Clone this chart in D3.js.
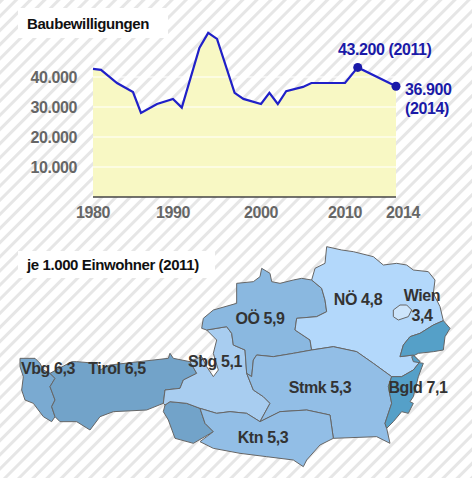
<!DOCTYPE html><html><head><meta charset="utf-8">
<script src="https://cdn.jsdelivr.net/npm/d3@7"></script>
<style>body{margin:0}svg text{font-family:"Liberation Sans",Arial,sans-serif;font-weight:bold;letter-spacing:-0.4px}</style></head><body>
<svg id="c" width="472" height="478"></svg>
<script>
const years=[1980,1981,1983,1985,1986,1988,1990,1991,1993,1994,1995,1997,1998,2000,2001,2002,2003,2005,2006,2010,2011,2014];
const values=[42700,42400,38000,35000,28000,31000,32700,29800,49700,54700,52700,34700,32700,31000,34700,31000,35300,36700,38000,38000,43200,36900];
const yTicks=[10000,20000,30000,40000];
const xTicks=[1980,1990,2000,2010,2014];
const states=["Vbg","Tirol","Osttirol","Sbg","OÖ","NÖ","Wien","Stmk","Ktn","Bgld"];
const rates=[6.3,6.5,6.5,5.1,5.9,4.8,3.4,5.3,5.3,7.1];
const shapes=[
[[60,385],[105,385],[120,400],[130,420],[150,430],[165,445],[150,470],[165,510],[155,530],[165,560],[155,575],[130,560],[100,520],[75,510],[65,480],[70,440],[60,410]],
[[150,430],[215,395],[230,395],[290,400],[300,420],[330,405],[505,385],[510,370],[520,385],[570,395],[590,430],[550,450],[540,475],[495,480],[490,520],[440,540],[340,545],[300,560],[270,600],[230,575],[180,575],[165,560],[155,530],[165,510],[150,470],[165,445]],
[[510,515],[560,520],[600,535],[615,580],[640,605],[580,640],[525,625],[505,570],[490,545],[495,525]],
[[570,395],[605,380],[620,410],[640,440],[655,420],[640,370],[650,330],[620,300],[680,290],[695,310],[700,345],[735,360],[740,430],[760,480],[790,500],[810,520],[780,575],[740,550],[690,545],[650,550],[600,535],[560,520],[510,515],[495,525],[490,520],[495,480],[540,475],[550,450],[590,430]],
[[605,295],[610,265],[640,240],[710,220],[710,160],[760,155],[780,140],[785,115],[810,130],[815,155],[840,160],[880,150],[905,145],[935,150],[965,175],[975,210],[980,245],[950,260],[890,265],[885,300],[930,330],[935,360],[880,370],[820,380],[770,375],[760,390],[755,440],[740,430],[735,360],[700,345],[695,310],[680,290],[620,300]],
[[935,150],[945,115],[975,100],[980,50],[1025,60],[1060,65],[1120,80],[1150,105],[1190,100],[1220,105],[1240,120],[1285,125],[1305,150],[1300,190],[1320,230],[1330,272],[1300,285],[1260,310],[1230,320],[1210,345],[1200,380],[1240,375],[1260,395],[1240,420],[1205,440],[1175,440],[1120,400],[1070,365],[1000,350],[935,360],[930,330],[885,300],[890,265],[950,260],[980,245],[975,210],[965,175]],
[[1180,240],[1200,225],[1220,225],[1235,240],[1225,260],[1195,270],[1180,260]],
[[760,390],[770,375],[820,380],[880,370],[935,360],[1000,350],[1070,365],[1120,400],[1175,440],[1165,470],[1175,520],[1155,580],[1160,595],[1170,640],[1130,620],[1000,625],[990,555],[920,540],[840,545],[780,575],[810,520],[790,500],[760,480],[740,430],[755,440]],
[[600,535],[650,550],[690,545],[740,550],[780,575],[840,545],[920,540],[990,555],[1000,625],[960,645],[920,690],[910,710],[880,690],[800,680],[720,670],[640,655],[600,635],[640,605],[615,580]],
[[1330,272],[1350,295],[1335,320],[1330,360],[1300,365],[1255,370],[1235,380],[1240,395],[1270,400],[1255,440],[1240,500],[1230,515],[1240,520],[1225,550],[1205,545],[1180,575],[1160,595],[1155,580],[1175,520],[1165,470],[1175,440],[1205,440],[1240,420],[1260,395],[1240,375],[1200,380],[1210,345],[1230,320],[1260,310],[1300,285]]
];
const labels=[["Vbg 6,3",48,374],["Tirol 6,5",117,374],["Sbg 5,1",215,367],["OÖ 5,9",260,324],["NÖ 4,8",358,305],["Stmk 5,3",320,393],["Ktn 5,3",263,443],["Bgld 7,1",418,393],["Wien",422,301],["3,4",422,321]];

const svg=d3.select("#c");
const defs=svg.append("defs");
const pat=defs.append("pattern").attr("id","st").attr("width",10).attr("height",10).attr("patternUnits","userSpaceOnUse").attr("patternTransform","rotate(45)");
pat.append("rect").attr("width",10).attr("height",10).attr("fill","#fff");
pat.append("rect").attr("width",3).attr("height",10).attr("fill","#e6e6e6");
svg.append("rect").attr("width",472).attr("height",478).attr("fill","url(#st)");

const x=d3.scaleLinear().domain([1980,1990,2000,2010,2014]).range([93,173,261,345,396]);
const y=d3.scaleLinear().domain([0,50000]).range([197,47]);
const pts=years.map((d,i)=>[d,values[i]]);
svg.append("path").datum(pts).attr("fill","#f8f8c4").attr("d",d3.area().x(d=>x(d[0])).y0(y(0)).y1(d=>y(d[1])));
svg.selectAll(".g").data(yTicks).join("line").attr("x1",x(1980)).attr("x2",x(2014)).attr("y1",d=>y(d)).attr("y2",d=>y(d)).attr("stroke","#fff").attr("stroke-width",1.2);
svg.append("line").attr("x1",x(1980)).attr("x2",x(2014)).attr("y1",y(0)).attr("y2",y(0)).attr("stroke","#444").attr("stroke-width",1.5);
svg.append("path").datum(pts).attr("fill","none").attr("stroke","#2020c8").attr("stroke-width",2.2).attr("d",d3.line().x(d=>x(d[0])).y(d=>y(d[1])));
svg.selectAll(".yl").data(yTicks).join("text").attr("x",77).attr("y",d=>y(d)+6).attr("text-anchor","end").attr("font-size",16).attr("fill","#666").text(d=>d3.format(",")(d).replace(",","."));
svg.selectAll(".xl").data(xTicks).join("text").attr("x",d=>x(d)+(d==2014?7:0)).attr("y",218).attr("text-anchor","middle").attr("font-size",16).attr("fill","#666").text(d=>d);
[[2011,43200],[2014,36900]].forEach(p=>svg.append("circle").attr("cx",x(p[0])).attr("cy",y(p[1])).attr("r",4.5).attr("fill","#1a1aa8"));
const blue="#1a1aa8";
svg.append("text").attr("x",338).attr("y",55).attr("font-size",16).attr("fill",blue).text("43.200 (2011)");
svg.append("text").attr("x",405).attr("y",95).attr("font-size",16).attr("fill",blue).text("36.900");
svg.append("text").attr("x",405).attr("y",114).attr("font-size",16).attr("fill",blue).text("(2014)");
svg.append("rect").attr("x",18).attr("y",8).attr("width",150).attr("height",30).attr("fill","#fff");
svg.append("text").attr("x",27).attr("y",29).attr("font-size",15).attr("fill","#111").text("Baubewilligungen");

const mx=d3.scaleLinear().domain([0,3]).range([0,1]);
const my=d3.scaleLinear().domain([0,3]).range([230,231]);
const col=d3.scaleLinear().domain([3.4,4.8,5.3,5.9,6.5,7.1]).range(["#cde5fb","#b3d8fb","#92bee6","#8ab8e0","#72a3c9","#55a0c8"]);
svg.selectAll(".st").data(shapes).join("path").attr("d",s=>"M"+s.map(p=>mx(p[0])+","+my(p[1])).join("L")+"Z")
 .attr("fill",(s,i)=>i==3?"#a8cdf0":col(rates[i])).attr("stroke","#666").attr("stroke-width",1);
svg.selectAll(".ml").data(labels).join("text").attr("x",d=>d[1]).attr("y",d=>d[2]).attr("text-anchor","middle").attr("font-size",16).attr("fill","#333").text(d=>d[0]);
svg.append("rect").attr("x",18).attr("y",251).attr("width",197).attr("height",27).attr("fill","#fff");
svg.append("text").attr("x",27).attr("y",270).attr("font-size",15).attr("fill","#111").text("je 1.000 Einwohner (2011)");
</script></body></html>
